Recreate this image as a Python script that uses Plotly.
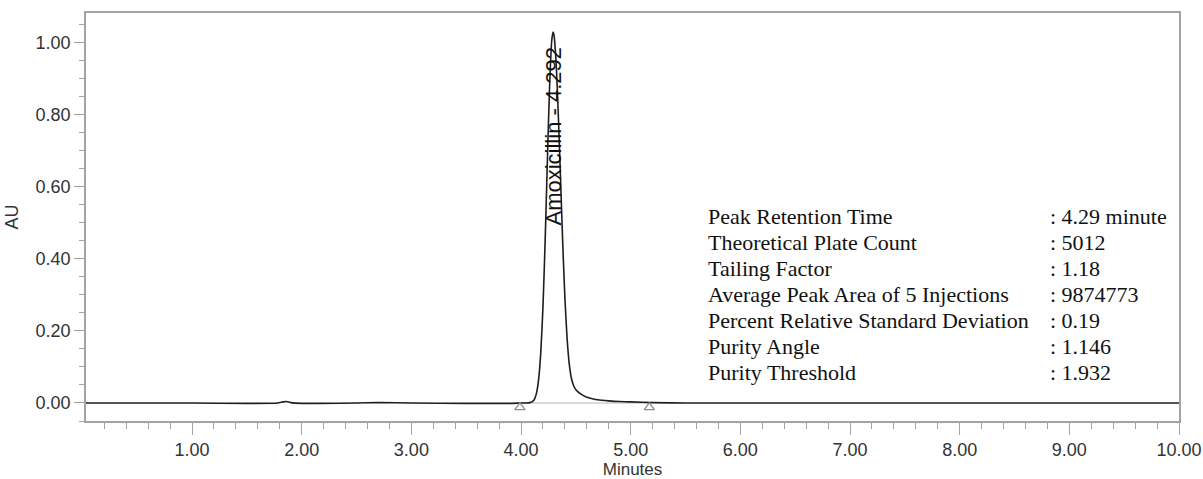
import plotly.graph_objects as go

# Chromatogram trace (retention time in minutes, absorbance in AU)
time_min = [0.03, 0.50, 1.00, 1.50, 1.78, 1.83, 1.86, 1.90, 2.00, 2.50, 2.70, 3.00, 3.50, 3.90, 4.00,
            4.05, 4.08, 4.10, 4.12, 4.14, 4.16, 4.18, 4.20, 4.22, 4.24, 4.26, 4.28, 4.292,
            4.30, 4.32, 4.34, 4.36, 4.38, 4.40, 4.42, 4.44, 4.46, 4.48, 4.50, 4.55, 4.60,
            4.65, 4.70, 4.80, 4.90, 5.00, 5.20, 5.50, 6.00, 7.00, 8.00, 9.00, 10.00]
absorbance = [0.000, 0.000, 0.000, -0.001, 0.000, 0.003, 0.004, 0.001, -0.001, 0.000, 0.001, 0.000, -0.001, -0.001, 0.000,
              0.000, 0.001, 0.003, 0.009, 0.026, 0.064, 0.140, 0.267, 0.450, 0.670, 0.875, 1.006, 1.030,
              1.023, 0.946, 0.800, 0.625, 0.446, 0.292, 0.180, 0.108, 0.068, 0.048, 0.037, 0.024, 0.016,
              0.012, 0.009, 0.006, 0.004, 0.003, 0.001, 0.000, 0.000, 0.000, 0.000, 0.000, 0.000]

# Peak integration limits
integration_start = 3.99
integration_end = 5.17

# Peak label
peak_name = "Amoxicillin"
peak_rt = 4.292
peak_height = 1.030

# System suitability summary
summary_labels = ["Peak Retention Time", "Theoretical Plate Count", "Tailing Factor",
                  "Average Peak Area of 5 Injections", "Percent Relative Standard Deviation",
                  "Purity Angle", "Purity Threshold"]
summary_values = [": 4.29 minute", ": 5012", ": 1.18", ": 9874773", ": 0.19", ": 1.146", ": 1.932"]

x_ticks = [1, 2, 3, 4, 5, 6, 7, 8, 9, 10]
y_ticks = [0.0, 0.2, 0.4, 0.6, 0.8, 1.0]

AXIS_GREY = "#a3a3a3"
TEXT_GREY = "#333333"

fig = go.Figure()

# integration baseline under the peak
fig.add_trace(go.Scatter(
    x=[integration_start, integration_end], y=[0, 0], mode="lines",
    line=dict(color="#b5b5b5", width=1.2), hoverinfo="skip", showlegend=False))

# chromatogram
fig.add_trace(go.Scatter(
    x=time_min, y=absorbance, mode="lines",
    line=dict(color="#1e1e1e", width=1.6, shape="spline", smoothing=0.6),
    showlegend=False))

# integration start / end markers
fig.add_trace(go.Scatter(
    x=[integration_start, integration_end], y=[-0.012, -0.012], mode="markers",
    marker=dict(symbol="triangle-up-open", size=9, color="#8c8c8c", line=dict(width=1.2)),
    hoverinfo="skip", showlegend=False))

# rotated peak label
fig.add_annotation(
    x=peak_rt, y=0.486, xref="x", yref="y",
    text=f"{peak_name} - {peak_rt:.3f}", textangle=-90,
    showarrow=False, xanchor="center", yanchor="bottom",
    font=dict(family="Arial, Liberation Sans, sans-serif", size=22, color="#111111"))

# summary table
row_top = 0.517
row_step = 0.0722
for i, (lab, val) in enumerate(zip(summary_labels, summary_values)):
    yy = row_top - i * row_step
    fig.add_annotation(x=5.688, y=yy, xref="x", yref="y", text=lab, showarrow=False,
                       xanchor="left", yanchor="middle",
                       font=dict(family="Liberation Serif, Times New Roman, serif", size=22, color="#111111"))
    fig.add_annotation(x=8.808, y=yy, xref="x", yref="y", text=val, showarrow=False,
                       xanchor="left", yanchor="middle",
                       font=dict(family="Liberation Serif, Times New Roman, serif", size=22, color="#111111"))

axis_font = dict(family="Arial, Liberation Sans, sans-serif", size=18, color=TEXT_GREY)

fig.update_xaxes(
    range=[0.033, 10.0], tickvals=x_ticks, ticktext=[f"{v:.2f}" for v in x_ticks],
    ticks="outside", ticklen=12, tickwidth=1.3, tickcolor=AXIS_GREY,
    minor=dict(dtick=0.2, tick0=0, ticks="outside", ticklen=6, tickwidth=1.2, tickcolor=AXIS_GREY),
    showline=True, linecolor=AXIS_GREY, linewidth=1.6, mirror=True,
    showgrid=False, zeroline=False, tickfont=axis_font, automargin=False,
    title=dict(text="Minutes", font=dict(family="Arial, Liberation Sans, sans-serif", size=17, color=TEXT_GREY),
               standoff=6))

fig.update_yaxes(
    range=[-0.05, 1.083], tickvals=y_ticks, ticktext=[f"{v:.2f}" for v in y_ticks],
    ticks="outside", ticklen=10, tickwidth=1.3, tickcolor=AXIS_GREY,
    minor=dict(dtick=0.05, tick0=0, ticks="outside", ticklen=5, tickwidth=1.2, tickcolor=AXIS_GREY),
    showline=True, linecolor=AXIS_GREY, linewidth=1.6, mirror=True,
    showgrid=False, zeroline=False, tickfont=axis_font, automargin=False,
    title=dict(text="AU", font=dict(family="Arial, Liberation Sans, sans-serif", size=18, color=TEXT_GREY),
               standoff=12))

fig.update_layout(
    width=1203, height=479,
    margin=dict(l=86, r=24, t=13, b=58),
    paper_bgcolor="white", plot_bgcolor="white")

fig.write_html("out.html")
